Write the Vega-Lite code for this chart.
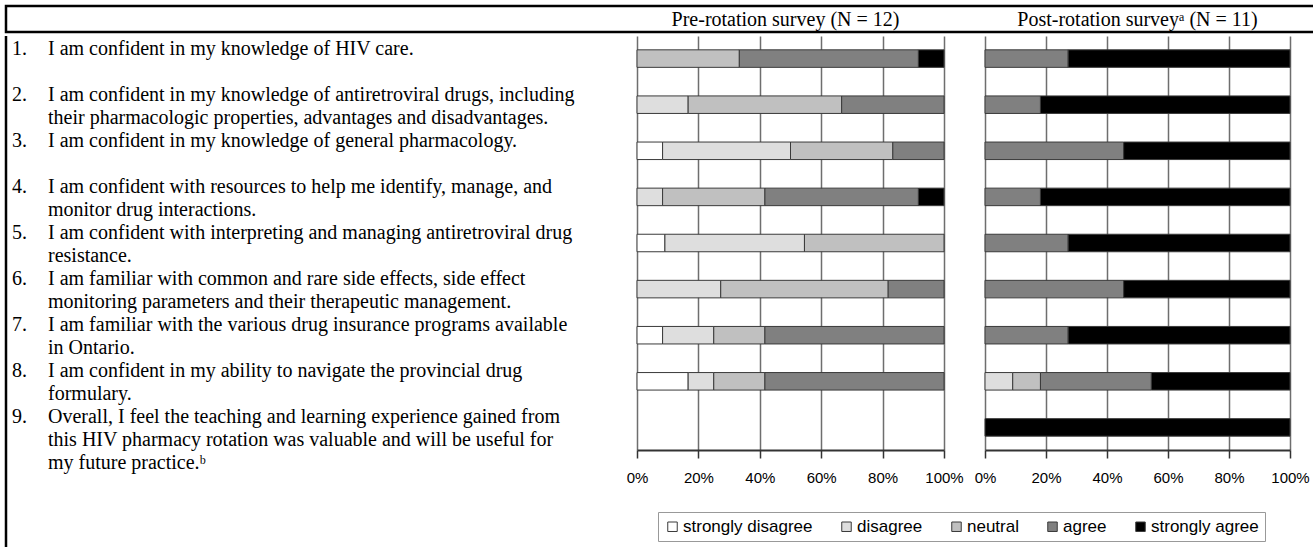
{
  "$schema": "https://vega.github.io/schema/vega-lite/v6.json",
  "background": "white",
  "padding": {"left": 4, "top": 4, "right": 0, "bottom": 0},
  "spacing": 0,
  "config": {
    "view": {"stroke": null},
    "font": "Liberation Serif",
    "text": {"font": "Liberation Serif", "fontSize": 20, "color": "black"},
    "axis": {
      "labelFont": "Liberation Sans",
      "labelFontSize": 15,
      "labelColor": "black",
      "domainColor": "#333333",
      "domainWidth": 2,
      "tickColor": "#333333",
      "tickWidth": 1.5,
      "tickSize": 8,
      "gridColor": "#6e6e6e",
      "gridWidth": 1.5,
      "labelPadding": 12,
      "labelFlush": false
    }
  },
  "resolve": {"scale": {"x": "independent", "y": "independent"}, "legend": {"color": "independent"}},
  "datasets": {
    "questions": [
      {"q": "Q1", "num": "1.", "text": "I am confident in my knowledge of HIV care."},
      {"q": "Q2", "num": "2.", "text": "I am confident in my knowledge of antiretroviral drugs, including\ntheir pharmacologic properties, advantages and disadvantages."},
      {"q": "Q3", "num": "3.", "text": "I am confident in my knowledge of general pharmacology."},
      {"q": "Q4", "num": "4.", "text": "I am confident with resources to help me identify, manage, and\nmonitor drug interactions."},
      {"q": "Q5", "num": "5.", "text": "I am confident with interpreting and managing antiretroviral drug\nresistance."},
      {"q": "Q6", "num": "6.", "text": "I am familiar with common and rare side effects, side effect\nmonitoring parameters and their therapeutic management."},
      {"q": "Q7", "num": "7.", "text": "I am familiar with the various drug insurance programs available\nin Ontario."},
      {"q": "Q8", "num": "8.", "text": "I am confident in my ability to navigate the provincial drug\nformulary."},
      {"q": "Q9", "num": "9.", "text": "Overall, I feel the teaching and learning experience gained from\nthis HIV pharmacy rotation was valuable and will be useful for\nmy future practice.ᵇ"}
    ],
    "pre": [
      {"q": "Q1", "response": "neutral", "level": 3, "n": 4},
      {"q": "Q1", "response": "agree", "level": 4, "n": 7},
      {"q": "Q1", "response": "strongly agree", "level": 5, "n": 1},
      {"q": "Q2", "response": "disagree", "level": 2, "n": 2},
      {"q": "Q2", "response": "neutral", "level": 3, "n": 6},
      {"q": "Q2", "response": "agree", "level": 4, "n": 4},
      {"q": "Q3", "response": "strongly disagree", "level": 1, "n": 1},
      {"q": "Q3", "response": "disagree", "level": 2, "n": 5},
      {"q": "Q3", "response": "neutral", "level": 3, "n": 4},
      {"q": "Q3", "response": "agree", "level": 4, "n": 2},
      {"q": "Q4", "response": "disagree", "level": 2, "n": 1},
      {"q": "Q4", "response": "neutral", "level": 3, "n": 4},
      {"q": "Q4", "response": "agree", "level": 4, "n": 6},
      {"q": "Q4", "response": "strongly agree", "level": 5, "n": 1},
      {"q": "Q5", "response": "strongly disagree", "level": 1, "n": 1},
      {"q": "Q5", "response": "disagree", "level": 2, "n": 5},
      {"q": "Q5", "response": "neutral", "level": 3, "n": 5},
      {"q": "Q6", "response": "disagree", "level": 2, "n": 3},
      {"q": "Q6", "response": "neutral", "level": 3, "n": 6},
      {"q": "Q6", "response": "agree", "level": 4, "n": 2},
      {"q": "Q7", "response": "strongly disagree", "level": 1, "n": 1},
      {"q": "Q7", "response": "disagree", "level": 2, "n": 2},
      {"q": "Q7", "response": "neutral", "level": 3, "n": 2},
      {"q": "Q7", "response": "agree", "level": 4, "n": 7},
      {"q": "Q8", "response": "strongly disagree", "level": 1, "n": 2},
      {"q": "Q8", "response": "disagree", "level": 2, "n": 1},
      {"q": "Q8", "response": "neutral", "level": 3, "n": 2},
      {"q": "Q8", "response": "agree", "level": 4, "n": 7}
    ],
    "post": [
      {"q": "Q1", "response": "agree", "level": 4, "n": 3},
      {"q": "Q1", "response": "strongly agree", "level": 5, "n": 8},
      {"q": "Q2", "response": "agree", "level": 4, "n": 2},
      {"q": "Q2", "response": "strongly agree", "level": 5, "n": 9},
      {"q": "Q3", "response": "agree", "level": 4, "n": 5},
      {"q": "Q3", "response": "strongly agree", "level": 5, "n": 6},
      {"q": "Q4", "response": "agree", "level": 4, "n": 2},
      {"q": "Q4", "response": "strongly agree", "level": 5, "n": 9},
      {"q": "Q5", "response": "agree", "level": 4, "n": 3},
      {"q": "Q5", "response": "strongly agree", "level": 5, "n": 8},
      {"q": "Q6", "response": "agree", "level": 4, "n": 5},
      {"q": "Q6", "response": "strongly agree", "level": 5, "n": 6},
      {"q": "Q7", "response": "agree", "level": 4, "n": 3},
      {"q": "Q7", "response": "strongly agree", "level": 5, "n": 8},
      {"q": "Q8", "response": "disagree", "level": 2, "n": 1},
      {"q": "Q8", "response": "neutral", "level": 3, "n": 1},
      {"q": "Q8", "response": "agree", "level": 4, "n": 4},
      {"q": "Q8", "response": "strongly agree", "level": 5, "n": 5},
      {"q": "Q9", "response": "strongly agree", "level": 5, "n": 11}
    ],
    "empty": []
  },
  "vconcat": [
    {
      "spacing": 0,
      "bounds": "flush",
      "hconcat": [
        {
          "width": 631, "height": 26,
          "view": {"stroke": "black", "strokeWidth": 2.5, "strokeDash": [631, 26, 657]},
          "data": {"name": "empty"},
          "mark": "text"
        },
        {
          "width": 307, "height": 26,
          "view": {"stroke": "black", "strokeWidth": 2.5, "strokeDash": [307, 26]},
          "data": {"values": [{"title": "Pre-rotation survey (N = 12)"}]},
          "mark": {"type": "text", "fontSize": 20, "baseline": "middle", "dy": 1, "dx": -5},
          "encoding": {"text": {"field": "title", "type": "nominal"}}
        },
        {
          "width": 41, "height": 26,
          "view": {"stroke": "black", "strokeWidth": 2.5, "strokeDash": [41, 26]},
          "data": {"name": "empty"},
          "mark": "text"
        },
        {
          "width": 305, "height": 26,
          "view": {"stroke": "black", "strokeWidth": 2.5, "strokeDash": [305, 26]},
          "data": {"values": [{"title": "Post-rotation surveyᵃ (N = 11)"}]},
          "mark": {"type": "text", "fontSize": 20, "baseline": "middle", "dy": 1},
          "encoding": {"text": {"field": "title", "type": "nominal"}}
        },
        {
          "width": 40, "height": 26,
          "view": {"stroke": "black", "strokeWidth": 2.5, "strokeDash": [40, 26]},
          "data": {"name": "empty"},
          "mark": "text"
        }
      ]
    },
    {
      "spacing": 0,
      "bounds": "flush",
      "resolve": {"scale": {"x": "independent", "y": "independent"}},
      "hconcat": [
        {
          "width": 631, "height": 520,
          "view": {"stroke": "black", "strokeWidth": 2.5, "strokeDash": [0, 1782, 520]},
          "data": {"name": "questions"},
          "encoding": {
            "y": {"field": "q", "type": "nominal", "scale": {"domain": ["Q1","Q2","Q3","Q4","Q5","Q6","Q7","Q8","Q9"], "range": [0, 414], "paddingInner": 0.62, "paddingOuter": 0.3}, "axis": null},
            "x": {"datum": 0, "type": "quantitative", "scale": {"domain": [0, 1]}, "axis": null}
          },
          "layer": [
            {
              "mark": {"type": "text", "align": "left", "baseline": "top", "dx": 6, "dy": -20, "fontSize": 20, "lineHeight": 23},
              "encoding": {"text": {"field": "num", "type": "nominal"}}
            },
            {
              "mark": {"type": "text", "align": "left", "baseline": "top", "dx": 42, "dy": -20, "fontSize": 20, "lineHeight": 23, "lineBreak": "\n"},
              "encoding": {"text": {"field": "text", "type": "nominal"}}
            }
          ]
        },
        {
          "width": 307, "height": 414,
          "data": {"name": "pre"},
          "mark": {"type": "bar", "stroke": "#3a3a3a", "strokeWidth": 1},
          "encoding": {
            "y": {"field": "q", "type": "nominal", "scale": {"domain": ["Q1","Q2","Q3","Q4","Q5","Q6","Q7","Q8","Q9"], "paddingInner": 0.62, "paddingOuter": 0.3}, "axis": null},
            "x": {"field": "n", "type": "quantitative", "stack": "normalize", "scale": {"domain": [0, 1], "nice": false},
                  "axis": {"title": null, "format": ".0%", "values": [0, 0.2, 0.4, 0.6, 0.8, 1], "grid": true}},
            "color": {"field": "response", "type": "nominal",
                      "scale": {"domain": ["strongly disagree", "disagree", "neutral", "agree", "strongly agree"], "range": ["#ffffff", "#dedede", "#c0c0c0", "#808080", "#000000"]},
                      "legend": {"title": null, "orient": "none", "legendX": 652, "legendY": 476, "direction": "horizontal", "symbolType": "square", "symbolSize": 90, "symbolStrokeColor": "#222222", "symbolStrokeWidth": 1, "labelFont": "Liberation Sans", "labelFontSize": 17, "labelColor": "black", "strokeColor": "#999999", "padding": 6, "columnPadding": 25, "labelOffset": 2}},
            "order": {"field": "level", "type": "quantitative"}
          }
        },
        {
          "width": 41, "height": 414,
          "data": {"name": "empty"},
          "mark": "text"
        },
        {
          "width": 305, "height": 414,
          "data": {"name": "post"},
          "mark": {"type": "bar", "stroke": "#3a3a3a", "strokeWidth": 1},
          "encoding": {
            "y": {"field": "q", "type": "nominal", "scale": {"domain": ["Q1","Q2","Q3","Q4","Q5","Q6","Q7","Q8","Q9"], "paddingInner": 0.62, "paddingOuter": 0.3}, "axis": null},
            "x": {"field": "n", "type": "quantitative", "stack": "normalize", "scale": {"domain": [0, 1], "nice": false},
                  "axis": {"title": null, "format": ".0%", "values": [0, 0.2, 0.4, 0.6, 0.8, 1], "grid": true}},
            "color": {"field": "response", "type": "nominal",
                      "scale": {"domain": ["strongly disagree", "disagree", "neutral", "agree", "strongly agree"], "range": ["#ffffff", "#dedede", "#c0c0c0", "#808080", "#000000"]}},
            "order": {"field": "level", "type": "quantitative"}
          }
        }
      ]
    }
  ]
}
